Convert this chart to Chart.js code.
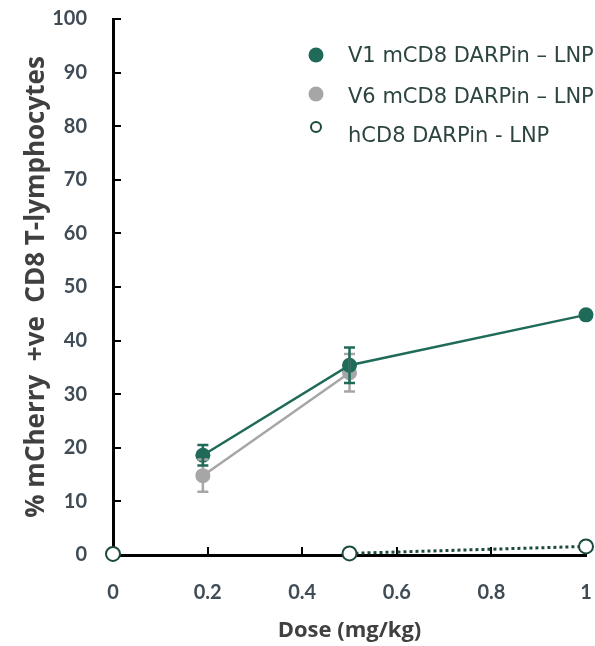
<!DOCTYPE html>
<html>
<head>
<meta charset="utf-8">
<script src="https://cdn.jsdelivr.net/npm/chart.js@4"></script>
<style>
  html, body { margin: 0; padding: 0; background: #fff; }
  #wrap { width: 595px; height: 646px; }
</style>
</head>
<body>
<div id="wrap"><canvas id="myChart" width="595" height="646"></canvas></div>
<script>
// doses (mg/kg) and % mCherry+ CD8 T cells
const v1Dose = [0.19, 0.5, 1];
const v1Vals = [18.6, 35.4, 44.8];
const v1Err = [1.9, 3.3, 0];

const v6Dose = [0.19, 0.5];
const v6Vals = [14.8, 34.0];
const v6Err = [3.0, 3.5];

const hDose = [0, 0.5, 1];
const hVals = [0.2, 0.3, 1.6];

const xTicks = [0, 0.2, 0.4, 0.6, 0.8, 1];
const yTicks = [0, 10, 20, 30, 40, 50, 60, 70, 80, 90, 100];

const labels = ['V1 mCD8 DARPin \u2013 LNP', 'V6 mCD8 DARPin \u2013 LNP', 'hCD8 DARPin - LNP'];

const green = '#1f6a58';
const grey = '#a6a6a6';
const dark = '#1c4a3f';
const tickColor = '#3f4b55';

const toPts = (xs, ys) => xs.map((x, i) => ({x: x, y: ys[i]}));

// error bars drawn on top of the lines
const errorBars = {
    id: 'errorBars',
    afterDatasetsDraw(chart) {
        const ctx = chart.ctx;
        const xs = chart.scales.x, ys = chart.scales.y;
        const sets = [[v6Dose, v6Vals, v6Err, grey], [v1Dose, v1Vals, v1Err, green]];
        ctx.save();
        ctx.lineWidth = 2.5;
        sets.forEach(([d, v, e, col]) => {
            ctx.strokeStyle = col;
            d.forEach((x, i) => {
                if (!e[i]) return;
                const px = xs.getPixelForValue(x);
                const top = ys.getPixelForValue(v[i] + e[i]);
                const bot = ys.getPixelForValue(v[i] - e[i]);
                ctx.beginPath();
                ctx.moveTo(px, top); ctx.lineTo(px, bot);
                ctx.moveTo(px - 5.5, top); ctx.lineTo(px + 5.5, top);
                ctx.moveTo(px - 5.5, bot); ctx.lineTo(px + 5.5, bot);
                ctx.stroke();
            });
        });
        ctx.restore();
    }
};

// tick marks pointing into the plot
const innerTicks = {
    id: 'innerTicks',
    beforeDatasetsDraw(chart) {
        const ctx = chart.ctx;
        const xs = chart.scales.x, ys = chart.scales.y;
        const a = chart.chartArea;
        ctx.save();
        ctx.strokeStyle = '#000';
        ctx.lineWidth = 2;
        ctx.beginPath();
        yTicks.slice(1).forEach(t => {
            const py = Math.round(ys.getPixelForValue(t));
            ctx.moveTo(a.left, py); ctx.lineTo(a.left + 8, py);
        });
        xTicks.slice(1).forEach(t => {
            const px = Math.round(xs.getPixelForValue(t));
            ctx.moveTo(px, a.bottom); ctx.lineTo(px, a.bottom - 8);
        });
        ctx.stroke();
        ctx.restore();
    }
};

// legend at the upper right
const sideLegend = {
    id: 'sideLegend',
    afterDraw(chart) {
        const ctx = chart.ctx;
        const rows = [55, 96, 135];
        ctx.save();
        ctx.font = '21px "DejaVu Sans"';
        ctx.textBaseline = 'middle';
        ctx.fillStyle = '#2d4540';
        labels.forEach((lab, i) => {
            ctx.fillText(lab, 348, rows[i] + 2);
        });
        ctx.beginPath(); ctx.arc(316, rows[0], 7.5, 0, Math.PI * 2);
        ctx.fillStyle = green; ctx.fill();
        ctx.beginPath(); ctx.arc(316, rows[1] - 2, 7.5, 0, Math.PI * 2);
        ctx.fillStyle = grey; ctx.fill();
        ctx.beginPath(); ctx.arc(316, rows[2] - 8, 5, 0, Math.PI * 2);
        ctx.fillStyle = '#fff'; ctx.fill();
        ctx.lineWidth = 2; ctx.strokeStyle = dark; ctx.stroke();
        ctx.restore();
    }
};

const ctx = document.getElementById('myChart').getContext('2d');
const chart = new Chart(ctx, {
    type: 'scatter',
    data: {
        datasets: [{
            label: labels[2],
            data: toPts(hDose, hVals),
            showLine: true,
            borderColor: dark,
            borderWidth: 3,
            borderDash: [3, 3],
            segment: {
                borderColor: c => c.p0DataIndex === 0 ? 'rgba(0,0,0,0)' : dark
            },
            pointRadius: 7,
            pointBackgroundColor: '#fff',
            pointBorderColor: dark,
            pointBorderWidth: 2,
            clip: false,
            order: 3
        }, {
            label: labels[1],
            data: toPts(v6Dose, v6Vals),
            showLine: true,
            borderColor: grey,
            borderWidth: 2.5,
            pointRadius: 7.5,
            pointBackgroundColor: grey,
            pointBorderWidth: 0,
            clip: false,
            order: 2
        }, {
            label: labels[0],
            data: toPts(v1Dose, v1Vals),
            showLine: true,
            borderColor: green,
            borderWidth: 2.5,
            pointRadius: 7.5,
            pointBackgroundColor: green,
            pointBorderWidth: 0,
            clip: false,
            order: 1
        }]
    },
    options: {
        responsive: false,
        animation: false,
        layout: { padding: { top: 19, right: 5, left: 0, bottom: 0 } },
        plugins: {
            legend: { display: false },
            tooltip: { enabled: false }
        },
        scales: {
            x: {
                type: 'linear',
                min: 0,
                max: 1,
                afterBuildTicks: s => { s.ticks = xTicks.map(v => ({value: v})); },
                afterFit: s => { s.height = 91; s.paddingLeft = 0; s.paddingRight = 0; },
                grid: { drawOnChartArea: false, drawTicks: false },
                border: { color: '#000', width: 3 },
                ticks: {
                    padding: 26,
                    color: tickColor,
                    font: { family: 'Lato', size: 20, weight: 'bold' },
                    callback: v => String(Number(v.toFixed(1)))
                },
                title: {
                    display: true,
                    text: 'Dose (mg/kg)',
                    color: '#404040',
                    font: { family: 'Open Sans', size: 22, weight: 'bold' },
                    padding: { top: 0, bottom: 2 }
                }
            },
            y: {
                min: 0,
                max: 100,
                afterBuildTicks: s => { s.ticks = yTicks.map(v => ({value: v})); },
                afterFit: s => { s.width = 113; s.paddingTop = 0; s.paddingBottom = 0; },
                grid: { drawOnChartArea: false, drawTicks: false },
                border: { color: '#000', width: 3 },
                ticks: {
                    padding: 26,
                    color: tickColor,
                    font: { family: 'Lato', size: 20, weight: 'bold' }
                },
                title: {
                    display: true,
                    text: '% mCherry  +ve  CD8 T-lymphocytes',
                    color: '#404040',
                    font: { family: 'Open Sans', size: 26, weight: 'bold' },
                    padding: { top: 21, bottom: 0 }
                }
            }
        }
    },
    plugins: [innerTicks, errorBars, sideLegend]
});
</script>
</body>
</html>
